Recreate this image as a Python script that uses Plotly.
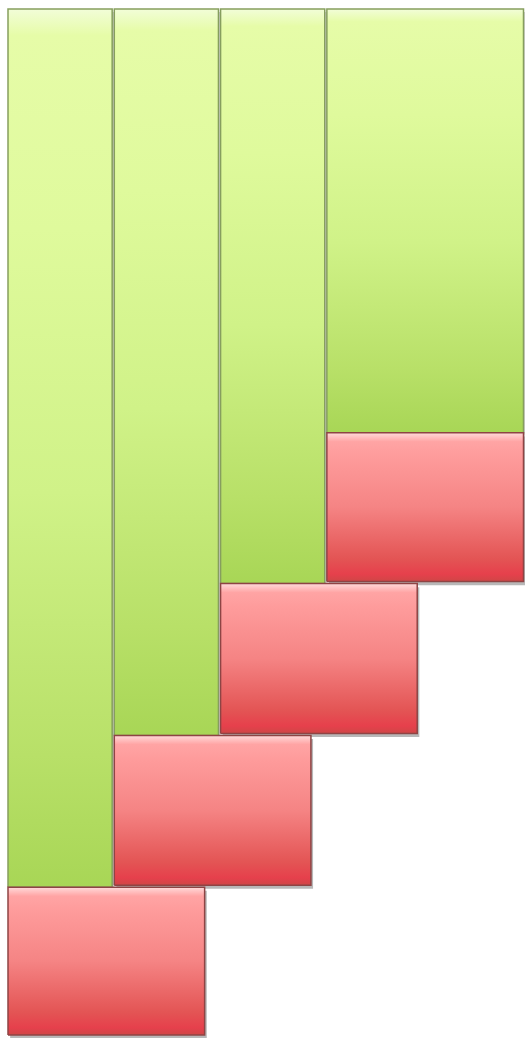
import plotly.graph_objects as go

# ---- data ----
stages = ["Stage 1", "Stage 2", "Stage 3", "Stage 4"]
drop_base = [0.0, 14.6, 29.4, 44.2]     # where each red block starts
drop = [14.4, 14.6, 14.6, 14.5]         # height of each red block
total = 100.0                           # top of every green column

# ---- style constants ----
GREEN_W = 0.98
RED_W = 1.85
GREEN_SCALE = [[0.0, "#a8d656"], [0.15, "#b8e068"], [0.45, "#d0f288"],
               [0.75, "#dffa9c"], [0.97, "#e6fca8"], [1.0, "#f2fdd8"]]
RED_SCALE = [[0.0, "#cf4646"], [0.05, "#e6404c"], [0.15, "#e35454"], [0.5, "#f58484"],
             [0.85, "#fe9c9c"], [0.94, "#ffa4a4"], [1.0, "#ffdada"]]
GREEN_LINE = "#869e5e"
RED_LINE = "#8e4444"

fig = go.Figure()


def rect(x0, x1, y0, y1, **kw):
    return go.Scatter(x=[x0, x1, x1, x0, x0], y=[y0, y0, y1, y1, y0],
                      mode="lines", fill="toself", hoverinfo="skip",
                      showlegend=False, **kw)


n = len(stages)
# green columns
for i, s in enumerate(stages):
    base = drop_base[i] + drop[i]
    w = RED_W if i == n - 1 else GREEN_W
    fig.add_trace(rect(i + 0.02, i + w + 0.02, base - 0.3, total - 0.3,
                       fillcolor="rgba(0,0,0,0.18)", line=dict(width=0)))
    fig.add_trace(rect(i, i + w, base, total,
                       fillgradient=dict(type="vertical", colorscale=GREEN_SCALE),
                       line=dict(color=GREEN_LINE, width=1.5)))

# red blocks
for i in reversed(range(n)):
    y0 = drop_base[i]
    y1 = drop_base[i] + drop[i]
    fig.add_trace(rect(i + 0.02, i + RED_W + 0.02, y0 - 0.35, y1 - 0.35,
                       fillcolor="rgba(0,0,0,0.28)", line=dict(width=0)))
    fig.add_trace(rect(i, i + RED_W, y0, y1,
                       fillgradient=dict(type="vertical", colorscale=RED_SCALE),
                       line=dict(color=RED_LINE, width=1.5)))

fig.update_layout(
    width=525, height=1038,
    margin=dict(l=0, r=0, t=0, b=0),
    paper_bgcolor="white", plot_bgcolor="white",
    xaxis=dict(range=[-0.0753, 4.864], visible=False, fixedrange=True),
    yaxis=dict(range=[-0.29, 100.88], visible=False, fixedrange=True),
    showlegend=False,
)

fig.write_html(
    "out.html",
    config={"displayModeBar": False},
    post_script="document.body.style.margin='0';document.body.style.overflow='hidden';",
)
